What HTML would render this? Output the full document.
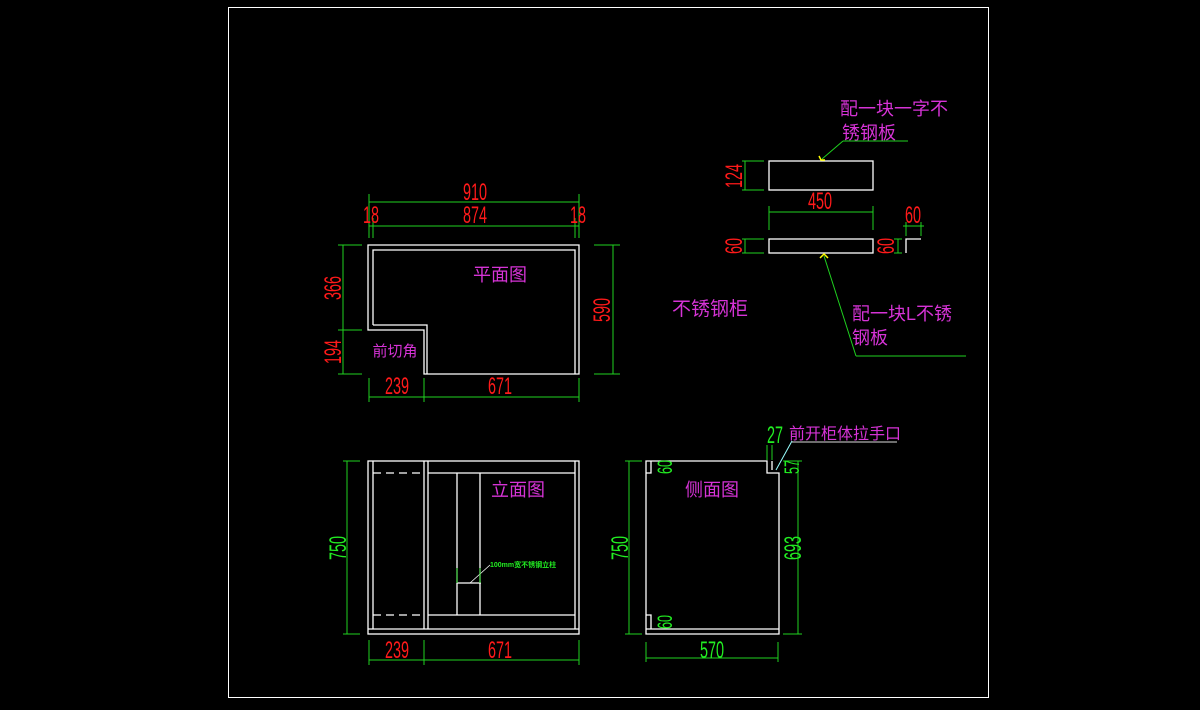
<!DOCTYPE html>
<html><head><meta charset="utf-8"><style>
html,body{margin:0;padding:0;background:#000;width:1200px;height:710px;overflow:hidden}
svg{display:block}
.w{stroke:#fff;stroke-width:1.3;fill:none}
.g{stroke:#1fd21f;stroke-width:1;fill:none}
.r{fill:#ff1a1a;font-family:"Liberation Sans",sans-serif;font-size:24px;text-anchor:middle}
.gt{fill:#22ee22;font-family:"Liberation Sans",sans-serif;font-size:24px;text-anchor:middle}
.s{font-size:21px}
.m{fill:#d633d6;font-family:"Liberation Sans","Noto Sans CJK SC",sans-serif;font-size:18px}
</style></head><body>
<svg width="1200" height="710" viewBox="0 0 1200 710">
<rect x="228.5" y="7.5" width="760" height="690" fill="none" stroke="#fff" stroke-width="1"/>

<!-- PLAN -->
<path class="w" d="M368,245 H579 V374 H424 V330 H368 Z"/>
<path class="w" d="M373,325 V250 H575 V374 M373,325 H427 V374"/>
<g class="g">
<line x1="369" y1="202" x2="579" y2="202"/><line x1="369" y1="226" x2="579" y2="226"/>
<line x1="369" y1="194" x2="369" y2="238"/><line x1="373" y1="218" x2="373" y2="238"/>
<line x1="575" y1="218" x2="575" y2="238"/><line x1="579" y1="194" x2="579" y2="238"/>
<line x1="343" y1="245" x2="343" y2="374"/>
<line x1="338" y1="245" x2="362" y2="245"/><line x1="338" y1="330" x2="362" y2="330"/><line x1="338" y1="374" x2="362" y2="374"/>
<line x1="613" y1="245" x2="613" y2="374"/>
<line x1="594" y1="245" x2="620" y2="245"/><line x1="594" y1="374" x2="620" y2="374"/>
<line x1="369" y1="397" x2="579" y2="397"/>
<line x1="369" y1="378" x2="369" y2="402"/><line x1="424" y1="378" x2="424" y2="402"/><line x1="579" y1="378" x2="579" y2="402"/>
</g>
<text class="r" transform="translate(475,200) scale(0.6,1)">910</text>
<text class="r" transform="translate(475,223) scale(0.6,1)">874</text>
<text class="r" transform="translate(371,223) scale(0.6,1)">18</text>
<text class="r" transform="translate(578,223) scale(0.6,1)">18</text>
<text class="r" transform="translate(341,288) rotate(-90) scale(0.6,1)">366</text>
<text class="r" transform="translate(341,352) rotate(-90) scale(0.6,1)">194</text>
<text class="r" transform="translate(610,310) rotate(-90) scale(0.6,1)">590</text>
<text class="r" transform="translate(397,394) scale(0.6,1)">239</text>
<text class="r" transform="translate(500,394) scale(0.6,1)">671</text>
<text class="m" x="500" y="281" text-anchor="middle">平面图</text>
<text class="m" x="395" y="356" text-anchor="middle" style="font-size:15px">前切角</text>
<text class="m" x="710" y="315" text-anchor="middle" style="font-size:19px">不锈钢柜</text>

<!-- ELEVATION -->
<rect class="w" x="368" y="461" width="211" height="173"/>
<g class="w">
<line x1="373" y1="461" x2="373" y2="629"/><line x1="424" y1="461" x2="424" y2="629"/>
<line x1="428" y1="461" x2="428" y2="629"/><line x1="575" y1="461" x2="575" y2="629"/>
<line x1="368" y1="629" x2="579" y2="629"/>
<line x1="428" y1="473" x2="575" y2="473"/><line x1="428" y1="615" x2="575" y2="615"/>
<line x1="457" y1="473" x2="457" y2="615"/><line x1="480" y1="473" x2="480" y2="615"/>
<line x1="457" y1="583" x2="481" y2="583"/>
<line x1="373" y1="473" x2="424" y2="473" stroke-dasharray="8,5"/>
<line x1="373" y1="615" x2="424" y2="615" stroke-dasharray="8,5"/>
<line x1="470" y1="583" x2="490" y2="565" stroke-width="0.8"/>
</g>
<g class="g">
<line x1="457" y1="568" x2="457" y2="583"/><line x1="480" y1="568" x2="480" y2="583"/>
<line x1="347" y1="461" x2="347" y2="634"/>
<line x1="343" y1="461" x2="360" y2="461"/><line x1="343" y1="634" x2="360" y2="634"/>
<line x1="369" y1="660" x2="579" y2="660"/>
<line x1="369" y1="640" x2="369" y2="665"/><line x1="424" y1="640" x2="424" y2="665"/><line x1="579" y1="640" x2="579" y2="665"/>
</g>
<text x="490" y="567" fill="#22ee22" font-family="Liberation Sans,Noto Sans CJK SC,sans-serif" font-size="7" font-weight="bold">100mm宽不锈钢立柱</text>
<text class="gt" transform="translate(346,548) rotate(-90) scale(0.6,1)">750</text>
<text class="r" transform="translate(397,658) scale(0.6,1)">239</text>
<text class="r" transform="translate(500,658) scale(0.6,1)">671</text>
<text class="m" x="518" y="496" text-anchor="middle">立面图</text>

<!-- SIDE -->
<path class="w" d="M646,461 H767 V473 H779 V634 H646 Z"/>
<g class="w">
<line x1="646" y1="629" x2="779" y2="629"/>
<path d="M646,473 H651 V461"/>
<path d="M646,615 H651 V629"/>
<line x1="772" y1="461" x2="772" y2="470"/>
</g>
<g class="g">
<line x1="629" y1="461" x2="629" y2="634"/>
<line x1="625" y1="461" x2="642" y2="461"/><line x1="625" y1="634" x2="642" y2="634"/>
<line x1="798" y1="461" x2="798" y2="634"/>
<line x1="783" y1="461" x2="802" y2="461"/><line x1="783" y1="634" x2="802" y2="634"/>
<line x1="646" y1="658" x2="778" y2="658"/>
<line x1="646" y1="642" x2="646" y2="662"/><line x1="778" y1="642" x2="778" y2="662"/>
<line x1="767" y1="445" x2="767" y2="460"/><line x1="772" y1="445" x2="772" y2="460"/>
</g>
<line x1="776" y1="470" x2="792" y2="441" stroke="#9ff" stroke-width="1"/>
<line x1="792" y1="442" x2="897" y2="442" stroke="#ddd" stroke-width="1"/>
<text class="gt" transform="translate(775,443) scale(0.6,1)">27</text>
<text class="m" x="845" y="439" text-anchor="middle" style="font-size:16px">前开柜体拉手口</text>
<text class="gt s" transform="translate(657,467) rotate(-90) scale(0.6,1)" dy="15">60</text>
<text class="gt s" transform="translate(657,622) rotate(-90) scale(0.6,1)" dy="15">60</text>
<text class="gt s" transform="translate(784,467) rotate(-90) scale(0.6,1)" dy="15">57</text>
<text class="gt" transform="translate(801,548) rotate(-90) scale(0.6,1)">693</text>
<text class="gt" transform="translate(628,548) rotate(-90) scale(0.6,1)">750</text>
<text class="gt" transform="translate(712,658) scale(0.6,1)">570</text>
<text class="m" x="712" y="496" text-anchor="middle">侧面图</text>

<!-- PLATES -->
<rect class="w" x="769" y="161" width="104" height="29"/>
<rect class="w" x="769" y="239" width="104" height="14"/>
<path class="w" d="M906,253 V239 H921"/>
<g class="g">
<line x1="745" y1="161" x2="745" y2="190"/>
<line x1="742" y1="161" x2="764" y2="161"/><line x1="742" y1="190" x2="764" y2="190"/>
<line x1="769" y1="212" x2="873" y2="212"/>
<line x1="769" y1="206" x2="769" y2="230"/><line x1="873" y1="206" x2="873" y2="230"/>
<line x1="745" y1="239" x2="745" y2="253"/>
<line x1="742" y1="239" x2="764" y2="239"/><line x1="742" y1="253" x2="764" y2="253"/>
<line x1="898" y1="239" x2="898" y2="253"/>
<line x1="894" y1="239" x2="902" y2="239"/><line x1="894" y1="253" x2="902" y2="253"/>
<line x1="903" y1="226" x2="924" y2="226"/><line x1="906" y1="222" x2="906" y2="236"/><line x1="921" y1="222" x2="921" y2="236"/>
<line x1="822" y1="159" x2="843" y2="141"/><line x1="843" y1="141" x2="908" y2="141"/>
<line x1="824" y1="256" x2="856" y2="356"/><line x1="856" y1="356" x2="966" y2="356"/>
</g>
<path d="M819,156 L821,160 L825,160" stroke="#ff0" stroke-width="1.5" fill="none"/>
<path d="M820,258 L824,254 L828,258" stroke="#ff0" stroke-width="1.5" fill="none"/>
<text class="r" transform="translate(742,176) rotate(-90) scale(0.6,1)">124</text>
<text class="r" transform="translate(820,209) scale(0.6,1)">450</text>
<text class="r" transform="translate(742,246) rotate(-90) scale(0.6,1)">60</text>
<text class="r" transform="translate(894,246) rotate(-90) scale(0.6,1)">60</text>
<text class="r" transform="translate(913,223) scale(0.6,1)">60</text>
<text class="m" x="840" y="115">配一块一字不</text>
<text class="m" x="842" y="139">锈钢板</text>
<text class="m" x="852" y="320">配一块L不锈</text>
<text class="m" x="852" y="344">钢板</text>
</svg>
</body></html>
